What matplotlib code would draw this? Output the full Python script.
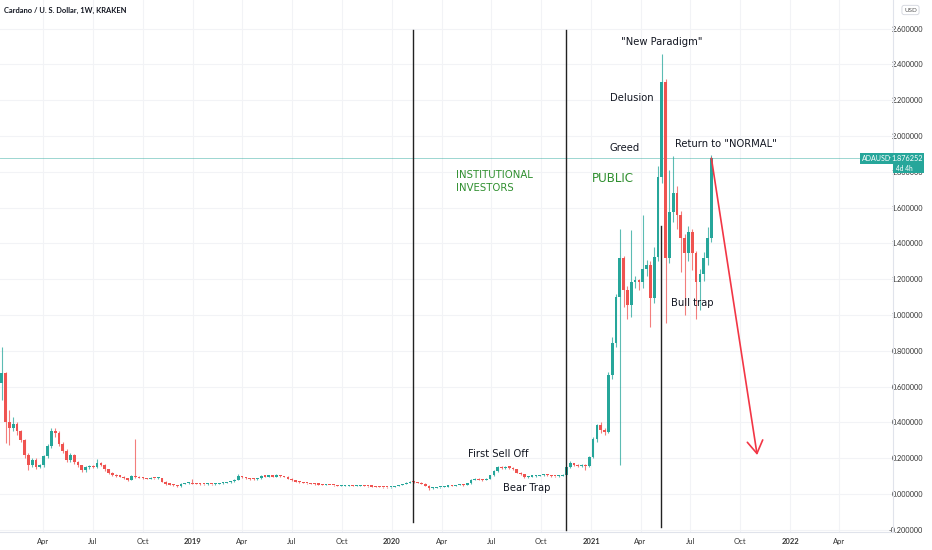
import datetime as dt
import numpy as np
import matplotlib
matplotlib.use("Agg")
import matplotlib.pyplot as plt
from matplotlib.patches import Rectangle
from matplotlib.transforms import IdentityTransform

# ---------------- data (weekly ADA/USD candles) ----------------
start_date = dt.date(2018, 1, 8)          # week index 0
first_open = 0.62

close = [
    0.676, 0.40, 0.37, 0.39, 0.35, 0.30, 0.22, 0.16, 0.19, 0.15,
    0.16, 0.21, 0.27, 0.355, 0.34, 0.28, 0.24, 0.19, 0.22, 0.18,
    0.16, 0.135, 0.15, 0.155, 0.15, 0.175, 0.165, 0.138, 0.12, 0.105,
    0.10, 0.098, 0.09, 0.08, 0.10, 0.095, 0.092, 0.088, 0.086, 0.09,
    0.088, 0.09, 0.07, 0.055, 0.053, 0.05, 0.044, 0.058, 0.06, 0.062,
    0.058, 0.057, 0.056, 0.055, 0.057, 0.055, 0.058, 0.06, 0.062, 0.065,
    0.072, 0.08, 0.10, 0.095, 0.09, 0.085, 0.082, 0.088, 0.10, 0.098,
    0.105, 0.097, 0.105, 0.10, 0.097, 0.085, 0.078, 0.07, 0.065, 0.062,
    0.06, 0.058, 0.055, 0.053, 0.05, 0.051, 0.05, 0.049, 0.045, 0.046,
    0.047, 0.048, 0.046, 0.047, 0.048, 0.045, 0.043, 0.042, 0.041, 0.040,
    0.038, 0.037, 0.040, 0.044, 0.049, 0.055, 0.063, 0.068, 0.066, 0.064,
    0.058, 0.045, 0.033, 0.035, 0.037, 0.040, 0.042, 0.047, 0.045, 0.050,
    0.052, 0.050, 0.060, 0.080, 0.085, 0.080, 0.078, 0.085, 0.105, 0.13,
    0.15, 0.145, 0.15, 0.148, 0.138, 0.12, 0.11, 0.095, 0.098, 0.10,
    0.102, 0.105, 0.108, 0.105, 0.10, 0.099, 0.103, 0.106, 0.152, 0.171,
    0.160, 0.155, 0.165, 0.155, 0.208, 0.305, 0.385, 0.357, 0.348, 0.665,
    0.842, 1.10, 1.317, 1.14, 1.056, 1.186, 1.195, 1.185, 1.26, 1.28,
    1.093, 1.326, 1.77, 2.30, 1.317, 1.577, 1.68, 1.56, 1.43, 1.345,
    1.465, 1.345, 1.186, 1.23, 1.317, 1.43, 1.876252,
]
high = [
    0.82, 0.68, 0.47, 0.43, 0.40, 0.36, 0.31, 0.23, 0.20, 0.20,
    0.17, 0.22, 0.28, 0.37, 0.37, 0.35, 0.29, 0.25, 0.23, 0.225,
    0.185, 0.165, 0.155, 0.165, 0.16, 0.195, 0.18, 0.17, 0.14, 0.125,
    0.11, 0.108, 0.10, 0.092, 0.105, 0.31, 0.10, 0.095, 0.092, 0.093,
    0.092, 0.093, 0.092, 0.072, 0.058, 0.055, 0.051, 0.06, 0.064, 0.066,
    0.085, 0.061, 0.059, 0.058, 0.059, 0.058, 0.06, 0.062, 0.065, 0.068,
    0.075, 0.085, 0.11, 0.102, 0.097, 0.092, 0.088, 0.09, 0.105, 0.104,
    0.108, 0.107, 0.11, 0.108, 0.103, 0.099, 0.088, 0.08, 0.072, 0.067,
    0.064, 0.062, 0.06, 0.057, 0.055, 0.054, 0.053, 0.052, 0.051, 0.048,
    0.049, 0.05, 0.05, 0.049, 0.05, 0.049, 0.046, 0.045, 0.044, 0.043,
    0.042, 0.04, 0.042, 0.046, 0.051, 0.058, 0.066, 0.072, 0.072, 0.068,
    0.066, 0.06, 0.048, 0.038, 0.04, 0.042, 0.045, 0.049, 0.05, 0.052,
    0.055, 0.054, 0.062, 0.083, 0.09, 0.088, 0.083, 0.087, 0.108, 0.135,
    0.155, 0.158, 0.155, 0.155, 0.15, 0.14, 0.125, 0.113, 0.102, 0.104,
    0.105, 0.108, 0.112, 0.11, 0.107, 0.103, 0.106, 0.11, 0.158, 0.185,
    0.175, 0.168, 0.17, 0.168, 0.215, 0.32, 0.39, 0.40, 0.37, 0.68,
    0.88, 1.12, 1.48, 1.33, 1.16, 1.475, 1.22, 1.20, 1.56, 1.31,
    1.30, 1.38, 1.83, 2.46, 2.32, 1.81, 1.89, 1.72, 1.58, 1.45,
    1.50, 1.48, 1.36, 1.26, 1.35, 1.49, 1.895,
]
low = [
    0.525, 0.285, 0.275, 0.35, 0.33, 0.29, 0.20, 0.134, 0.15, 0.14,
    0.145, 0.15, 0.20, 0.26, 0.32, 0.27, 0.23, 0.18, 0.18, 0.17,
    0.15, 0.125, 0.125, 0.14, 0.145, 0.145, 0.155, 0.13, 0.11, 0.10,
    0.095, 0.095, 0.085, 0.075, 0.078, 0.09, 0.088, 0.085, 0.083, 0.085,
    0.084, 0.086, 0.068, 0.052, 0.05, 0.047, 0.04, 0.042, 0.054, 0.057,
    0.055, 0.054, 0.053, 0.052, 0.053, 0.052, 0.053, 0.056, 0.058, 0.06,
    0.063, 0.07, 0.078, 0.09, 0.085, 0.08, 0.078, 0.08, 0.085, 0.094,
    0.095, 0.094, 0.095, 0.097, 0.094, 0.082, 0.075, 0.067, 0.062, 0.06,
    0.058, 0.056, 0.053, 0.051, 0.048, 0.049, 0.048, 0.047, 0.043, 0.044,
    0.045, 0.046, 0.044, 0.045, 0.046, 0.043, 0.041, 0.04, 0.039, 0.038,
    0.036, 0.035, 0.036, 0.039, 0.043, 0.048, 0.054, 0.061, 0.063, 0.061,
    0.055, 0.043, 0.025, 0.031, 0.034, 0.036, 0.039, 0.041, 0.043, 0.044,
    0.048, 0.047, 0.049, 0.058, 0.078, 0.076, 0.074, 0.076, 0.083, 0.10,
    0.125, 0.138, 0.14, 0.142, 0.132, 0.115, 0.105, 0.09, 0.092, 0.095,
    0.097, 0.099, 0.102, 0.10, 0.096, 0.095, 0.097, 0.10, 0.103, 0.148,
    0.155, 0.15, 0.152, 0.135, 0.15, 0.20, 0.29, 0.34, 0.33, 0.34,
    0.64, 0.82, 0.16, 1.046, 0.98, 0.99, 1.15, 1.14, 1.15, 1.22,
    0.935, 1.07, 1.30, 1.74, 0.955, 1.29, 1.52, 1.48, 1.24, 1.00,
    1.30, 1.25, 0.98, 1.03, 1.19, 1.28, 1.41,
]

tick_dates = ["2018-04-01", "2018-07-01", "2018-10-01", "2019-01-01",
              "2019-04-01", "2019-07-01", "2019-10-01", "2020-01-01",
              "2020-04-01", "2020-07-01", "2020-10-01", "2021-01-01",
              "2021-04-01", "2021-07-01", "2021-10-01", "2022-01-01",
              "2022-04-01"]
tick_labels = ["Apr", "Jul", "Oct", "2019", "Apr", "Jul", "Oct", "2020",
               "Apr", "Jul", "Oct", "2021", "Apr", "Jul", "Oct", "2022", "Apr"]
y_ticks = [-0.2, 0.0, 0.2, 0.4, 0.6, 0.8, 1.0, 1.2, 1.4, 1.6, 1.8, 2.0, 2.2, 2.4, 2.6]

# vertical phase lines: (date, top value, bottom value)
phase_lines = [("2020-02-08", 2.592, -0.156),
               ("2020-11-15", 2.592, -0.20),
               ("2021-05-08", 1.50, -0.184)]

symbol = "ADAUSD"
time_left = "4d 4h"


def week_pos(s):
    d = dt.date.fromisoformat(s)
    return (d - start_date).days / 7.0


# ---------------- figure ----------------
UP, DOWN = "#26a69a", "#ef5350"
W, H = 932, 550
fig = plt.figure(figsize=(W / 100, H / 100), dpi=100)
ax_right_px, ax_bottom_px = 893, 532
ax = fig.add_axes([0, 1 - ax_bottom_px / H, ax_right_px / W, ax_bottom_px / H])

close_a = np.array(close)
high_a = np.array(high)
low_a = np.array(low)
open_a = np.concatenate([[first_open], close_a[:-1]])
x = np.arange(1, len(close_a) + 1)
cols = np.where(close_a >= open_a, UP, DOWN)

body_bottom = np.minimum(open_a, close_a)
body_h = np.maximum(np.abs(close_a - open_a), 0.006)

ax.vlines(x, low_a, high_a, colors=cols, lw=0.8, alpha=0.75, zorder=2)
ax.bar(x, body_h, bottom=body_bottom, width=0.72, color=cols, linewidth=0, zorder=3)

ax.set_xlim(0.55, 234.6)
ax.set_ylim(-0.212, 2.760)

# grid
xt = [week_pos(s) for s in tick_dates]
ax.set_xticks(xt)
ax.set_xticklabels(tick_labels)
ax.set_yticks(y_ticks)
ax.set_yticklabels([f"{v:.6f}" for v in y_ticks])
ax.grid(True, color="#f2f3f6", lw=0.8, zorder=0)
ax.set_axisbelow(True)

ax.yaxis.tick_right()
ax.tick_params(axis="y", length=0, pad=21.8, labelsize=5.3, labelcolor="#333333")
ax.tick_params(axis="x", length=0, pad=4.0, labelsize=5.5, labelcolor="#333333")
for lab in ax.get_yticklabels():
    lab.set_horizontalalignment("right")
    lab.set_fontfamily("Lato")
for lab in ax.get_xticklabels():
    lab.set_fontfamily("Lato")
    if lab.get_text().isdigit():
        lab.set_fontweight("bold")

for side in ["top", "left"]:
    ax.spines[side].set_visible(False)
for side in ["right", "bottom"]:
    ax.spines[side].set_color("#e0e3eb")
    ax.spines[side].set_linewidth(0.8)

# current price line
last = close_a[-1]
ax.axhline(last, color=UP, lw=0.7, alpha=0.45, zorder=1)

# phase lines
for d, top, bot in phase_lines:
    ax.plot([week_pos(d)] * 2, [bot, top], color="#222222", lw=1.0, zorder=5)

# annotations
txt = dict(family="DejaVu Sans", color="#131722", fontsize=7.2, va="baseline", zorder=6)
ax.text(163.25, 2.511, '"New Paradigm"', **txt)
ax.text(160.3, 2.196, "Delusion", **txt)
ax.text(160.3, 1.916, "Greed", **txt)
ax.text(177.5, 1.941, 'Return to "NORMAL"', **txt)
ax.text(176.4, 1.053, "Bull trap", **txt)
ax.text(123.3, 0.2095, "First Sell Off", **txt)
ax.text(132.3, 0.018, "Bear Trap", **txt)

GREEN = "#2f8f2f"
ax.text(120.1, 1.765, "INSTITUTIONAL", family="DejaVu Sans", color=GREEN,
        fontsize=7.3, va="baseline", zorder=6)
ax.text(120.1, 1.693, "INVESTORS", family="DejaVu Sans", color=GREEN,
        fontsize=7.3, va="baseline", zorder=6)
ax.text(155.6, 1.743, "PUBLIC", family="DejaVu Sans", color=GREEN,
        fontsize=8.6, va="baseline", zorder=6)

# projected drop arrow
ax.annotate("", xy=(199.0, 0.218), xytext=(x[-1], last),
            arrowprops=dict(arrowstyle="->,head_length=0.45,head_width=0.28",
                            color="#f23645", lw=1.2, shrinkA=0, shrinkB=0,
                            mutation_scale=20),
            zorder=6)

# title
fig.text(4 / W, 1 - 10 / H, "Cardano / U. S. Dollar, 1W, KRAKEN", family="Lato",
         fontweight="bold", fontsize=5.4, color="#131722", va="center", ha="left")

# USD box
fig.text(910.5 / W, 1 - 10 / H, "USD", family="Lato", fontsize=4.5, color="#555555",
         ha="center", va="center",
         bbox=dict(boxstyle="round,pad=0.35", fc="white", ec="#d1d4dc", lw=0.6))

# price label boxes (positioned from the data transform)
fig.canvas.draw()
y_disp = ax.transData.transform((0, last))[1]
r1 = Rectangle((860, y_disp - 5.5), 64, 11, transform=IdentityTransform(),
               facecolor=UP, edgecolor="none", zorder=10)
r2 = Rectangle((893, y_disp - 15), 31, 9.5, transform=IdentityTransform(),
               facecolor=UP, edgecolor="none", zorder=10)
fig.add_artist(r1)
fig.add_artist(r2)
fig.text(862 / W, y_disp / H, symbol, family="Lato", fontsize=5.0, color="white",
         ha="left", va="center", zorder=11)
fig.text(890 / W, y_disp / H, "·", family="Lato", fontsize=5.0, color="white",
         ha="center", va="center", zorder=11)
fig.text(922.5 / W, y_disp / H, f"{last:.6f}", family="Lato", fontsize=5.2, color="white",
         ha="right", va="center", zorder=11)
fig.text(896 / W, (y_disp - 10.3) / H, time_left, family="Lato", fontsize=4.8, color="white",
         ha="left", va="center", zorder=11)

fig.savefig("out.png", dpi=100, facecolor="white")
